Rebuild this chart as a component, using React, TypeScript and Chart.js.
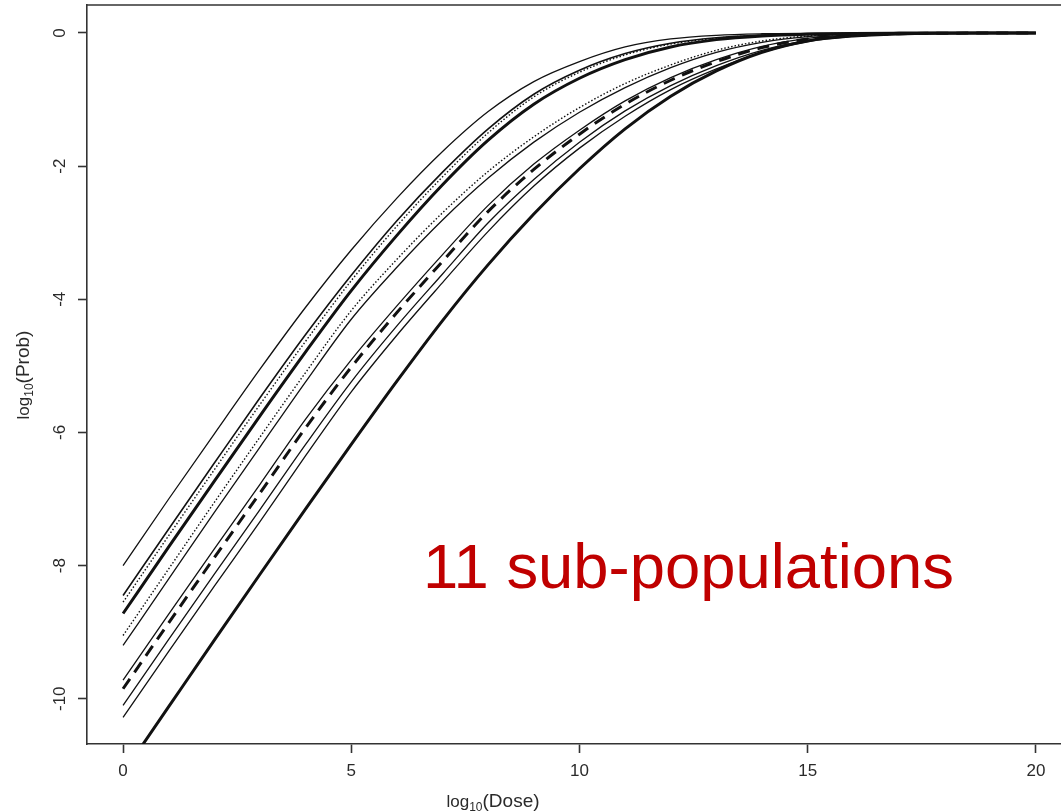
import { useEffect, useRef } from "react";
import { Chart, registerables } from "chart.js";

Chart.register(...registerables);

// log10(Dose) grid
const xDose = [0, 1, 2, 3, 4, 5, 6, 7, 8, 9, 10, 11, 12, 13, 14, 15, 16, 17, 18, 19, 20];

// log10(Prob) for each of the 11 sub-populations
const pop01 = [-8.0, -7.0, -6.02, -5.05, -4.12, -3.26, -2.48, -1.78, -1.18, -0.73, -0.43, -0.21, -0.09, -0.035, -0.012, -0.004, -0.001, 0, 0, 0, 0];
const pop02 = [-8.45, -7.45, -6.46, -5.48, -4.53, -3.64, -2.82, -2.09, -1.44, -0.92, -0.56, -0.31, -0.155, -0.073, -0.032, -0.013, -0.005, -0.002, -0.001, 0, 0];
const pop03 = [-8.55, -7.55, -6.56, -5.58, -4.63, -3.72, -2.9, -2.16, -1.5, -0.96, -0.59, -0.33, -0.167, -0.079, -0.035, -0.015, -0.006, -0.0025, -0.001, 0, 0];
const pop04 = [-8.72, -7.72, -6.73, -5.75, -4.79, -3.87, -3.04, -2.28, -1.61, -1.07, -0.68, -0.4, -0.21, -0.1, -0.045, -0.018, -0.0066, -0.0024, -0.001, 0, 0];
const pop05 = [-9.05, -8.05, -7.05, -6.07, -5.1, -4.17, -3.4, -2.7, -2.08, -1.56, -1.12, -0.76, -0.48, -0.26, -0.12, -0.046, -0.017, -0.006, -0.002, -0.0005, 0];
const pop06 = [-9.2, -8.2, -7.2, -6.22, -5.24, -4.3, -3.52, -2.81, -2.18, -1.64, -1.19, -0.82, -0.52, -0.29, -0.14, -0.055, -0.02, -0.007, -0.002, -0.0005, 0];
const pop07 = [-9.72, -8.73, -7.75, -6.78, -5.8, -4.91, -4.1, -3.33, -2.59, -1.97, -1.46, -1.02, -0.67, -0.4, -0.2, -0.08, -0.03, -0.01, -0.003, -0.001, 0];
const pop08 = [-9.85, -8.86, -7.88, -6.91, -5.93, -5.02, -4.2, -3.43, -2.68, -2.05, -1.52, -1.07, -0.71, -0.43, -0.22, -0.09, -0.035, -0.012, -0.004, -0.001, 0];
const pop09 = [-10.1, -9.11, -8.13, -7.16, -6.18, -5.24, -4.4, -3.62, -2.85, -2.2, -1.64, -1.17, -0.79, -0.49, -0.26, -0.11, -0.045, -0.016, -0.005, -0.0015, 0];
const pop10 = [-10.28, -9.29, -8.31, -7.34, -6.35, -5.39, -4.54, -3.75, -2.98, -2.3, -1.73, -1.25, -0.85, -0.54, -0.29, -0.13, -0.052, -0.018, -0.006, -0.002, 0];
const pop11 = [-11.12, -10.12, -9.12, -8.13, -7.15, -6.18, -5.23, -4.32, -3.48, -2.72, -2.04, -1.44, -0.95, -0.57, -0.29, -0.12, -0.045, -0.014, -0.004, -0.001, 0];

const xTicks = [0, 5, 10, 15, 20];
const yTicks = [0, -2, -4, -6, -8, -10];
const noteText = "11 sub-populations";

const series = [
  { data: pop01, width: 1.3, dash: [] as number[] },
  { data: pop02, width: 1.6, dash: [] as number[] },
  { data: pop03, width: 1.4, dash: [1.5, 2] },
  { data: pop04, width: 3, dash: [] as number[] },
  { data: pop05, width: 1.4, dash: [1.5, 2] },
  { data: pop06, width: 1.3, dash: [] as number[] },
  { data: pop07, width: 1.3, dash: [] as number[] },
  { data: pop08, width: 3, dash: [12, 8] },
  { data: pop09, width: 1.3, dash: [] as number[] },
  { data: pop10, width: 1.3, dash: [] as number[] },
  { data: pop11, width: 3, dash: [] as number[] },
];

const INK = "#2a2a2a";
const FONT = '"Liberation Sans", Arial, Helvetica, sans-serif';

const decor = {
  id: "decor",
  afterDraw(chart: any) {
    const { ctx, chartArea: a, scales } = chart;
    ctx.save();
    // top frame line
    ctx.strokeStyle = "#333";
    ctx.lineWidth = 1.6;
    ctx.beginPath();
    ctx.moveTo(a.left, a.top);
    ctx.lineTo(a.right, a.top);
    ctx.stroke();

    ctx.fillStyle = INK;
    ctx.textAlign = "center";
    ctx.textBaseline = "middle";
    ctx.font = `17px ${FONT}`;
    for (const v of xTicks) {
      ctx.fillText(String(v), scales.x.getPixelForValue(v), 771);
    }
    for (const v of yTicks) {
      ctx.save();
      ctx.translate(60, scales.y.getPixelForValue(v));
      ctx.rotate(-Math.PI / 2);
      ctx.fillText(String(v), 0, 0);
      ctx.restore();
    }

    // axis titles with subscript
    const drawTitle = (pre: string, sub: string, post: string) => {
      ctx.textAlign = "left";
      ctx.textBaseline = "alphabetic";
      ctx.font = `17px ${FONT}`;
      const w1 = ctx.measureText(pre).width;
      ctx.font = `12px ${FONT}`;
      const w2 = ctx.measureText(sub).width;
      ctx.font = `19px ${FONT}`;
      const w3 = ctx.measureText(post).width;
      let x = -(w1 + w2 + w3) / 2;
      ctx.font = `17px ${FONT}`;
      ctx.fillText(pre, x, 5);
      x += w1;
      ctx.font = `12px ${FONT}`;
      ctx.fillText(sub, x, 9);
      x += w2;
      ctx.font = `19px ${FONT}`;
      ctx.fillText(post, x, 5);
    };
    ctx.save();
    ctx.translate(493, 802);
    drawTitle("log", "10", "(Dose)");
    ctx.restore();
    ctx.save();
    ctx.translate(24, 375);
    ctx.rotate(-Math.PI / 2);
    drawTitle("log", "10", "(Prob)");
    ctx.restore();

    // annotation
    ctx.fillStyle = "#c00000";
    ctx.textAlign = "left";
    ctx.textBaseline = "alphabetic";
    ctx.font = `63.4px ${FONT}`;
    ctx.fillText(noteText, 423, 588);
    ctx.restore();
  },
};

export default function App() {
  const ref = useRef<HTMLCanvasElement | null>(null);
  useEffect(() => {
    if (!ref.current) return;
    const chart = new Chart(ref.current, {
      type: "line",
      data: {
        datasets: series.map((s, i) => ({
          label: `pop${i + 1}`,
          data: xDose.map((x, j) => ({ x, y: s.data[j] })),
          borderColor: "#111",
          borderWidth: s.width,
          borderDash: s.dash,
          pointRadius: 0,
          cubicInterpolationMode: "monotone" as const,
          fill: false,
        })),
      },
      options: {
        animation: false,
        responsive: false,
        maintainAspectRatio: false,
        layout: { padding: { left: 0, top: 5, right: 0, bottom: 0 } },
        plugins: { legend: { display: false }, tooltip: { enabled: false } },
        scales: {
          x: {
            type: "linear",
            min: -0.79,
            max: 20.55,
            afterBuildTicks: (scale: any) => {
              scale.ticks = xTicks.map((v) => ({ value: v }));
            },
            afterFit: (scale: any) => {
              scale.height = 68;
              scale.paddingLeft = 0;
              scale.paddingRight = 0;
            },
            ticks: { display: false },
            grid: { drawOnChartArea: false, drawTicks: true, tickLength: 9, tickColor: "#333", tickWidth: 1.6 },
            border: { display: true, color: "#333", width: 1.6 },
          },
          y: {
            type: "linear",
            min: -10.68,
            max: 0.42,
            afterBuildTicks: (scale: any) => {
              scale.ticks = yTicks.map((v) => ({ value: v }));
            },
            afterFit: (scale: any) => {
              scale.width = 87;
              scale.paddingTop = 0;
              scale.paddingBottom = 0;
            },
            ticks: { display: false },
            grid: { drawOnChartArea: false, drawTicks: true, tickLength: 9, tickColor: "#333", tickWidth: 1.6 },
            border: { display: true, color: "#333", width: 1.6 },
          },
        },
      },
      plugins: [decor],
    });
    return () => chart.destroy();
  }, []);
  return (
    <div style={{ position: "absolute", left: 0, top: 0, width: 1061, height: 812, background: "#fff" }}>
      <canvas ref={ref} width={1061} height={812} style={{ display: "block" }} />
    </div>
  );
}
